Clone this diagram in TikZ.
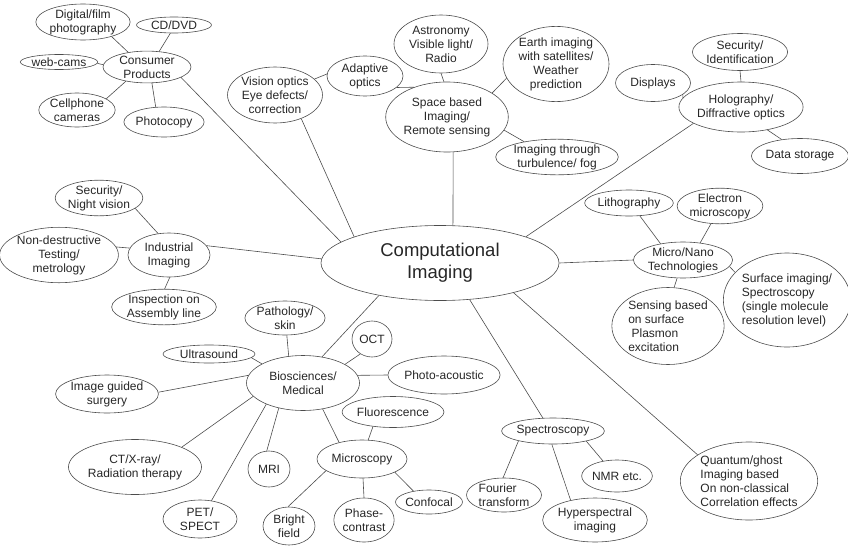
\documentclass[tikz,border=0pt]{standalone}
\usepackage{fontspec}
\setmainfont{Liberation Sans}
\usetikzlibrary{shapes.geometric}

\begin{document}
\begin{tikzpicture}[x=1pt,y=-1pt,
    bub/.style 2 args={draw=black!70, line width=0.6pt, ellipse, inner sep=0pt, align=center,
      text=black!85, font=\fontsize{12}{14}\selectfont, minimum width=#1pt, minimum height=#2pt},
    lnk/.style={draw=black!70, line width=0.6pt}]
    \useasboundingbox (0,0) rectangle (848,546);
    \node[bub={238}{75}, font=\fontsize{18.5}{22}\selectfont] (cimg) at (440,263) {Computational\\Imaging};

    \node[bub={88}{31}] (consumer) at (147,67) {Consumer\\Products};
    \node[bub={90}{36}] (digital) at (83,22) {Digital/film\\photography};
    \node[bub={75}{16}] (cddvd) at (174,25) {CD/DVD};
    \node[bub={75}{15}] (webcams) at (59,62) {web-cams};
    \node[bub={75}{34}] (cellphone) at (77,110) {Cellphone\\cameras};
    \node[bub={75}{30}] (photocopy) at (164,122) {Photocopy};
    \draw[lnk] (digital.-27) -- (consumer.142);
    \draw[lnk] (cddvd.-114) -- (consumer.52);
    \draw[lnk] (webcams.-2) -- (consumer.177);
    \draw[lnk] (cellphone.21) -- (consumer.-146);
    \draw[lnk] (photocopy.119) -- (consumer.-73);
    \draw[lnk] (consumer.-17) -- (cimg.168);

    \node[bub={85}{56}] (vision) at (275,95) {Vision optics\\Eye defects/\\correction};
    \node[bub={76}{40}] (adaptive) at (365,76) {Adaptive\\optics};
    \node[bub={94}{58}] (astro) at (441,44) {Astronomy\\Visible light/\\Radio};
    \node[bub={110}{70}] (space) at (447,117) {Space based\\Imaging/\\Remote sensing};
    \node[bub={106}{70}] (earth) at (556,64) {Earth imaging\\with satellites/\\Weather\\prediction};
    \node[bub={118}{34}] (turb) at (557,157) {Imaging through\\turbulence/ fog};
    \draw[lnk] (vision.22) -- (adaptive.177);
    \draw[lnk] (vision.-42) -- (cimg.163);
    \draw[lnk] (adaptive.-20) -- (space.138);
    \draw[lnk] (astro.-90) -- (space.95);
    \draw[lnk] (space.28) -- (earth.-164);
    \draw[lnk] (space.-13) -- (turb.155);
    \draw[lnk] (space.-80) -- (cimg.71);

    \node[bub={102}{50}] (holo) at (741,107) {Holography/\\Diffractive optics};
    \node[bub={94}{37}] (secid) at (740,52) {Security/\\Identification};
    \node[bub={75}{37}] (displays) at (653,83) {Displays};
    \node[bub={86}{35}] (datastore) at (800,156) {Data storage};
    \draw[lnk] (secid.-90) -- (holo.90);
    \draw[lnk] (displays.-21) -- (holo.171);
    \draw[lnk] (holo.-41) -- (datastore.138);
    \draw[lnk] (holo.-161) -- (cimg.17);

    \node[bub={82}{44}] (industrial) at (169,255) {Industrial\\Imaging};
    \node[bub={75}{27}] (nightvis) at (99,198) {Security/\\Night vision};
    \node[bub={102}{46}] (ndt) at (59,255) {Non-destructive\\Testing/\\metrology};
    \node[bub={98}{30}] (inspect) at (164,307) {Inspection on\\Assembly line};
    \draw[lnk] (nightvis.-16) -- (industrial.117);
    \draw[lnk] (ndt.8) -- (industrial.170);
    \draw[lnk] (industrial.-88) -- (inspect.88);
    \draw[lnk] (industrial.14) -- (cimg.178);

    \node[bub={87}{36}] (micronano) at (683,260) {Micro/Nano\\Technologies};
    \node[bub={70}{26}] (litho) at (629,203) {Lithography};
    \node[bub={74}{34}] (electron) at (720,206) {Electron\\microscopy};
    \node[bub={120}{94}, align=left] (surface) at (787,300) {Surface imaging/\\ Spectroscopy\\(single molecule\\resolution level)};
    \node[bub={110}{77}, align=left] (sensing) at (668,326) {Sensing based\\ on surface\\ \ Plasmon\\ excitation};
    \node[bub={132}{78}, align=left] (quantum) at (749,481) {Quantum/ghost\\Imaging based\\On non-classical\\Correlation effects};
    \draw[lnk] (litho.-50) -- (micronano.144);
    \draw[lnk] (electron.-117) -- (micronano.45);
    \draw[lnk] (micronano.-8) -- (surface.152);
    \draw[lnk] (micronano.-108) -- (sensing.81);
    \draw[lnk] (cimg.0) -- (micronano.180);
    \draw[lnk] (cimg.-22) -- (quantum.153);

    \node[bub={113}{55}] (bio) at (303,383) {Biosciences/\\Medical};
    \node[bub={76}{34}] (patho) at (285,318) {Pathology/\\skin};
    \node[bub={92}{18}] (ultra) at (209,354) {Ultrasound};
    \node[bub={93}{38}] (guided) at (107,394) {Image guided\\surgery};
    \node[bub={40}{36}] (oct) at (372,339) {OCT};
    \node[bub={97}{38}] (photoac) at (444,375) {Photo-acoustic};
    \node[bub={93}{31}] (fluor) at (393,412) {Fluorescence};
    \node[bub={90}{38}] (microscopy) at (362,459) {Microscopy};
    \node[bub={42}{36}] (mri) at (269,469) {MRI};
    \node[bub={106}{55}] (ctxray) at (135,467) {CT/X-ray/\\Radiation therapy};
    \node[bub={74}{38}] (pet) at (200,519) {PET/\\SPECT};
    \node[bub={52}{38}] (bright) at (289,526) {Bright\\field};
    \node[bub={52}{44}] (phase) at (364,520) {Phase-\\contrast};
    \node[bub={65}{24}] (confocal) at (429,502) {Confocal};
    \draw[lnk] (patho.-84) -- (bio.118);
    \draw[lnk] (ultra.-5) -- (bio.155);
    \draw[lnk] (guided.2) -- (bio.172);
    \draw[lnk] (oct.-128) -- (bio.24);
    \draw[lnk] (photoac.180) -- (bio.8);
    \draw[lnk] (ctxray.23) -- (bio.-165);
    \draw[lnk] (pet.58) -- (bio.-150);
    \draw[lnk] (mri.97) -- (bio.-134);
    \draw[lnk] (bio.-53) -- (microscopy.144);
    \draw[lnk] (fluor.-144) -- (microscopy.72);
    \draw[lnk] (microscopy.-162) -- (bright.93);
    \draw[lnk] (microscopy.-87) -- (phase.90);
    \draw[lnk] (microscopy.-22) -- (confocal.145);
    \draw[lnk] (bio.54) -- (cimg.-152);

    \node[bub={93}{26}] (spectro) at (553,431) {Spectroscopy};
    \node[bub={75}{34}, align=left] (fourier) at (504,495) {Fourier\\transform};
    \node[bub={63}{32}] (nmr) at (617,476) {NMR etc.};
    \node[bub={96}{44}] (hyper) at (595,520) {Hyperspectral\\imaging};
    \draw[lnk] (spectro.-164) -- (fourier.93);
    \draw[lnk] (spectro.-95) -- (hyper.141);
    \draw[lnk] (spectro.-17) -- (nmr.133);
    \draw[lnk] (cimg.-51) -- (spectro.128);
  \end{tikzpicture}
\end{document}
